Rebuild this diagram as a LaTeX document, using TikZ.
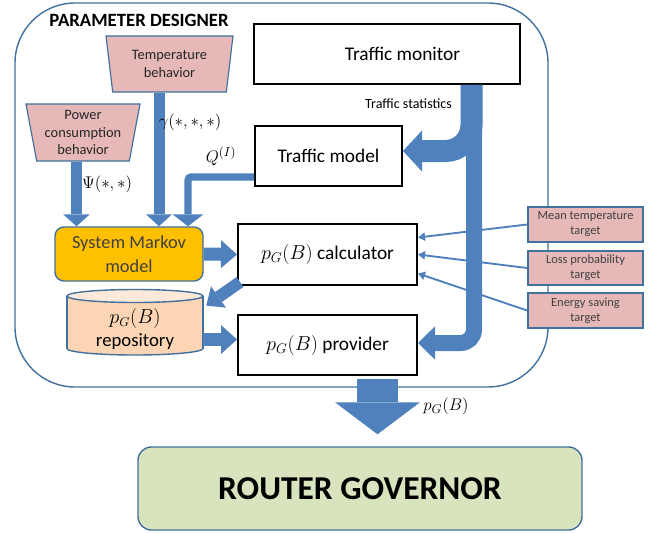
\documentclass[tikz,border=0pt]{standalone}
\usepackage{fontspec}
\setmainfont{Carlito}
\usetikzlibrary{arrows.meta,shapes.geometric}

\definecolor{edgeblue}{HTML}{41719C}
\definecolor{arrowblue}{HTML}{4F81BD}
\definecolor{pinkfill}{HTML}{E6B9B8}
\definecolor{markovfill}{HTML}{FFC000}
\definecolor{repofill}{HTML}{FCD5B5}
\definecolor{repotop}{HTML}{FDE9D9}
\definecolor{govfill}{HTML}{D7E4BD}

\begin{document}
\begin{tikzpicture}[x=0.03cm, y=-0.03cm,
    box/.style={draw=black, line width=1.7pt, fill=white, minimum height=1.8cm,
        font=\fontsize{16.5}{19}\selectfont},
    behav/.style={trapezium, trapezium angle=77, shape border rotate=180,
        trapezium stretches body, draw=edgeblue, line width=1pt, fill=pinkfill,
        align=center, inner sep=1pt, text=black!85,
        font=\fontsize{12.3}{14.8}\selectfont},
    goalbox/.style={draw=edgeblue, line width=1.5pt, fill=pinkfill,
        minimum width=3.45cm, minimum height=1.04cm, align=center, inner sep=1pt,
        text=black!75, font=\fontsize{10.6}{12.8}\selectfont},
    flow/.style n args={3}{draw=arrowblue, line width=#1,
        -{Triangle[length=#2, width=#3, line width=0pt]}},
    goalline/.style={draw=arrowblue, line width=1.6pt,
        -{Triangle[length=6pt, width=7pt]}},
    lbl/.style={font=\fontsize{15}{18}\selectfont}
]
    \useasboundingbox (0,0) rectangle (663,533);

    % Parameter designer frame
    \draw[edgeblue, line width=1.2pt, rounded corners=1.8cm] (15,3) rectangle (548,387);
    \node[font=\bfseries\fontsize{16}{19}\selectfont] (title) at (139,20) {PARAMETER DESIGNER};

    % Behaviour inputs
    \node[behav, minimum width=3.81cm, minimum height=1.68cm] (temp) at (169.5,64) {Temperature\\behavior};
    \node[behav, minimum width=3.42cm, minimum height=1.71cm] (power) at (83,132.5) {Power\\consumption\\behavior};

    % Traffic blocks
    \node[box, minimum width=7.98cm] (monitor) at (387,54) {\hspace*{0.93cm}Traffic monitor};
    \node[box, minimum width=4.41cm] (tmodel) at (328.5,156) {Traffic model};
    \node[box, minimum width=5.37cm, minimum height=1.83cm] (calc) at (327.5,254.5) {$p_G(B)$\ calculator};
    \node[box, minimum width=5.37cm] (prov) at (327.5,345) {$p_G(B)$\ provider};

    % Markov model
    \node[draw=edgeblue, line width=1.2pt, fill=markovfill, rounded corners=0.27cm,
        minimum width=4.44cm, minimum height=1.62cm, align=center, text=black!75,
        font=\fontsize{15.7}{20}\selectfont] (markov) at (129,254) {System Markov\\model};

    % Repository cylinder
    \filldraw[fill=repofill, draw=edgeblue, line width=1.2pt] (135,348.5) ellipse [x radius=2.04cm, y radius=0.195cm];
    \fill[repofill] (67,296) rectangle (203,348.5);
    \draw[edgeblue, line width=1.2pt] (67,296) -- (67,348.5) (203,296) -- (203,348.5);
    \filldraw[fill=repotop, draw=edgeblue, line width=1.2pt] (135,296) ellipse [x radius=2.04cm, y radius=0.195cm];
    \node[minimum width=4.08cm, minimum height=1.6cm, align=center,
        font=\fontsize{16}{20}\selectfont] (repo) at (135,329) {$p_G(B)$\\repository};

    % Targets
    \node[goalbox] (mean) at (585.5,224.5) {Mean temperature\\target};
    \node[goalbox] (loss) at (585.5,268) {Loss probability\\target};
    \node[goalbox] (energy) at (585.5,310.5) {Energy saving\\target};

    % Router governor
    \node[draw=edgeblue, line width=1.2pt, fill=govfill, rounded corners=0.4cm,
        minimum width=13.32cm, minimum height=2.49cm,
        font=\bfseries\fontsize{28.5}{34}\selectfont] (router) at (360,488.5) {ROUTER GOVERNOR};

    % Target links
    \draw[goalline] (mean.west) -- ([shift={(0,-17)}]calc.east);
    \draw[goalline] (loss.west) -- (calc.east);
    \draw[goalline] (energy.west) -- ([shift={(0,19)}]calc.east);

    % Arrows into the Markov model
    \coordinate (tx) at (159,0);
    \coordinate (px) at (76.5,0);
    \coordinate (qx) at (188,0);
    \draw[flow={0.33cm}{0.36cm}{0.78cm}] (temp.south -| tx) -- (markov.north -| tx);
    \draw[flow={0.33cm}{0.36cm}{0.8cm}] (power.south -| px) -- (markov.north -| px);
    \draw[flow={0.22cm}{0.36cm}{0.93cm}, rounded corners=0.1cm] ([shift={(0,21)}]tmodel.west) -| (qx |- markov.north);

    % Traffic flows
    \coordinate (sx) at (471.5,0);
    \coordinate (vx) at (474,0);
    \draw[flow={0.48cm}{0.51cm}{1.0cm}, rounded corners=0.4cm] (monitor.south -| vx) |- ([shift={(0,-2)}]prov.east);
    \draw[flow={0.66cm}{0.57cm}{1.23cm}, rounded corners=0.78cm] (monitor.south -| sx) |- ([shift={(0,-5)}]tmodel.east);

    % Probability flows
    \coordinate (ry) at (0,339.5);
    \coordinate (ox) at (377.5,0);
    \draw[flow={0.39cm}{0.48cm}{0.84cm}] (markov.east) -- (calc.west);
    \draw[flow={0.36cm}{0.45cm}{0.78cm}] ([shift={(3,-4)}]calc.south west) -- ([shift={(3,3.5)}]repo.north east);
    \draw[flow={0.39cm}{0.48cm}{0.87cm}] (ry -| repo.east) -- (ry -| prov.west);
    \draw[flow={1.23cm}{0.96cm}{2.55cm}] ([shift={(0,3)}]prov.south -| ox) -- ([shift={(0,-12)}]router.north -| ox);

    % Labels
    \node[lbl] (gam) at (190,122) {$\gamma(*,*,*)$};
    \node[lbl] (psi) at (107,184) {$\Psi(*,*)$};
    \node[lbl] (qlab) at (221,156) {$Q^{(I)}$};
    \node[font=\fontsize{12}{14}\selectfont, anchor=east] (stats) at (456,104) {Traffic statistics};
    \node[lbl] (out) at (446,406) {$p_G(B)$};
\end{tikzpicture}
\end{document}
